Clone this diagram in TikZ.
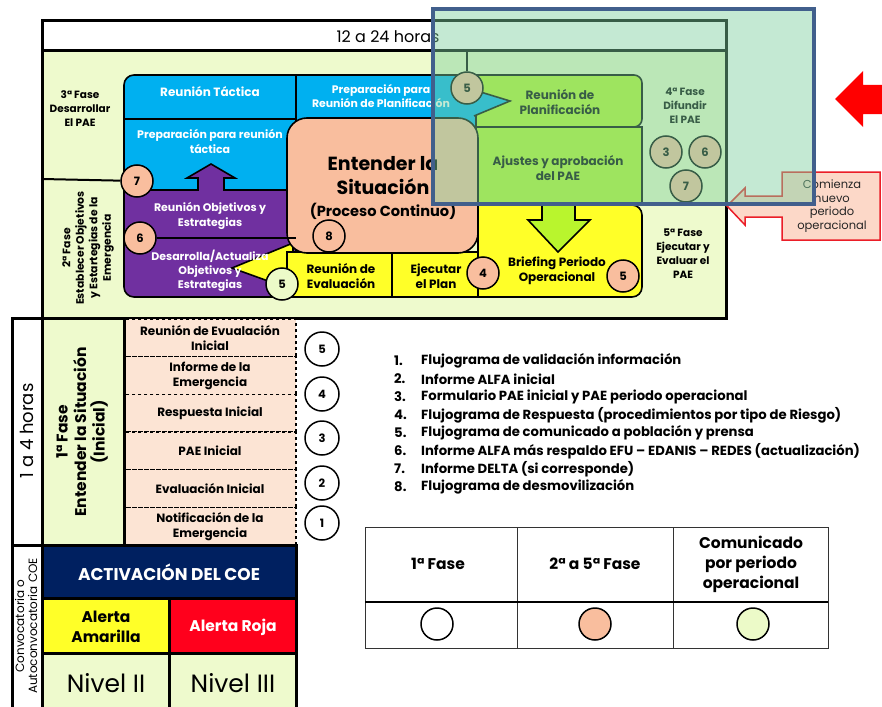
\documentclass[tikz,border=0pt]{standalone}
\usepackage{fontspec}
\setmainfont{Poppins}
\newcommand{\myfs}[2]{\fontsize{#1}{#2}\selectfont}
\definecolor{panel}{RGB}{238,250,205}
\definecolor{cyanb}{RGB}{0,176,240}
\definecolor{purp}{RGB}{112,48,160}
\definecolor{salm}{RGB}{249,190,158}
\definecolor{yel}{RGB}{255,255,40}
\definecolor{gbox}{RGB}{185,245,45}
\definecolor{peach}{RGB}{252,228,212}
\definecolor{navy}{RGB}{0,32,96}
\definecolor{rojo}{RGB}{255,0,28}
\definecolor{lgreen}{RGB}{236,250,200}
\definecolor{ovl}{RGB}{126,208,158}
\definecolor{ovlb}{RGB}{65,95,140}
\definecolor{calfill}{RGB}{252,216,200}
\definecolor{calline}{RGB}{235,30,40}
\pgfdeclarelayer{fg}
\pgfdeclarelayer{ovlayer}
\pgfsetlayers{main,fg,ovlayer}
\begin{document}
\begin{tikzpicture}[x=1pt,y=-1pt,
  box/.style={draw=black,line width=1.6pt},
  thickbox/.style={draw=black,line width=3pt},
  circ/.style={circle,draw=black,line width=1.5pt,minimum size=32pt,inner sep=0pt,font=\myfs{11.5}{12}\bfseries},
  wtxt/.style={text=white,font=\myfs{11}{15}\bfseries,align=center,inner sep=0pt},
  btxt/.style={text=black,font=\myfs{10.5}{14}\bfseries,align=center,inner sep=0pt},
  ptxt/.style={text=black,font=\myfs{12}{15}\bfseries,align=center,inner sep=0pt},
  ltxt/.style={font=\myfs{13.2}{14}\bfseries,anchor=west,inner sep=0pt},
  gtxt/.style={font=\myfs{15.5}{20}\bfseries,align=center,inner sep=0pt},
]
\useasboundingbox (0,0) rectangle (882,706);
\fill[white] (0,0) rectangle (882,706);

% ---------- upper panel ----------
\filldraw[fill=panel,thickbox] (42,21) rectangle (726,318);
\filldraw[fill=white,thickbox] (42,21) rectangle (726,51);
\node[font=\myfs{16}{18}] (hdr) at (388,37) {12 a 24 horas};

% blue boxes
\filldraw[fill=cyanb,box] (296,75) rectangle (476,140);
\filldraw[fill=cyanb,box] (124,119) -- (124,85) arc[start angle=180,end angle=270,radius=10] -- (296,75) -- (296,119) -- cycle;
\filldraw[fill=cyanb,box] (124,119) rectangle (296,192);
% purple
\filldraw[fill=purp,box] (124,190) -- (296,190) -- (296,297) -- (134,297) arc[start angle=90,end angle=180,radius=10] -- cycle;
\fill[purp] (198,193) -- (198,178) -- (187,178) -- (211,164) -- (235,178) -- (224,178) -- (224,193) -- cycle;
\draw[box] (198,190.8) -- (198,178) -- (187,178) -- (211,164) -- (235,178) -- (224,178) -- (224,190.8);
% yellow
\filldraw[fill=yel,box] (232,268) -- (293,243) -- (293,290) -- cycle;
\filldraw[fill=yel,box] (287,252) rectangle (392,297);
\filldraw[fill=yel,box] (392,252) rectangle (478,297);
\filldraw[fill=yel,box] (478,205) -- (632,205) arc[start angle=270,end angle=360,radius=10] -- (642,287) arc[start angle=0,end angle=90,radius=10] -- (478,297) -- cycle;
\fill[gbox] (542,203) -- (542,220) -- (528,220) -- (558,252) -- (590,220) -- (575,220) -- (575,203) -- cycle;
\draw[box] (542,206) -- (542,220) -- (528,220) -- (558,252) -- (590,220) -- (575,220) -- (575,206);
% green
\filldraw[fill=gbox,box] (476,75) -- (634,75) arc[start angle=270,end angle=360,radius=8] -- (642,119) arc[start angle=0,end angle=90,radius=8] -- (476,127) -- cycle;
\filldraw[fill=gbox,box] (476,127) rectangle (642,205);
% salmon
\filldraw[fill=salm,box,rounded corners=20pt] (287,118) rectangle (478,253);
% pointer
\filldraw[fill=cyanb,box] (474,90) -- (510,101) -- (474,116);

% texts of upper panel
\node[btxt] (f3) at (80,109) {3ª Fase\\Desarrollar\\El PAE};
\node[btxt,rotate=90,font=\myfs{10.8}{13.5}\bfseries] (f2) at (88,248) {2ª Fase\\Establecer Objetivos\\y Estartegias de la\\Emergencia};
\node[btxt] (f4) at (685,106) {4ª Fase\\Difundir\\El PAE};
\node[btxt] (f5) at (683,254) {5ª Fase\\Ejecutar y\\Evaluar el\\PAE};
\node[wtxt,font=\myfs{12}{15}\bfseries] (tRT) at (210,92) {Reunión Táctica};
\node[wtxt] (tPRT) at (210,141) {Preparación para reunión\\táctica};
\node[wtxt,font=\myfs{10.9}{14}\bfseries] (tPRP) at (381,96) {Preparación para\\Reunión de Planificación};
\node[wtxt] (tROE) at (210,216) {Reunión Objetivos y\\Estrategias};
\node[wtxt,font=\myfs{11}{14}\bfseries] (tDAO) at (210,271) {Desarrolla/Actualiza\\Objetivos y\\Estrategias};
\node[btxt,font=\myfs{19}{24}\bfseries] (tENT) at (383,176) {Entender la\\Situación};
\node[btxt,font=\myfs{14.6}{16}\bfseries] (tPC) at (383,211) {(Proceso Continuo)};
\node[ptxt] (tRE) at (341,276) {Reunión de\\Evaluación};
\node[ptxt] (tEP) at (436,276) {Ejecutar\\el Plan};
\node[ptxt] (tRP) at (560,102) {Reunión de\\Planificación};
\node[ptxt] (tAJ) at (558,168) {Ajustes y aprobación\\del PAE};
\node[ptxt] (tBR) at (557,271) {Briefing Periodo\\Operacional};

% circles
\begin{pgfonlayer}{fg}
\node[circ,fill=salm] (c5t) at (467,88) {5};
\node[circ,fill=salm] (c7) at (137,181) {7};
\node[circ,fill=salm] (c6) at (140,238) {6};
\node[circ,fill=salm] (c8) at (329,236) {8};
\node[circ,fill=lgreen] (c5c) at (282,284) {5};
\node[circ,fill=salm] (c4) at (483,273) {4};
\node[circ,fill=salm] (c5b) at (623,276) {5};
\node[circ,fill=salm] (c3r) at (666,152) {3};
\node[circ,fill=salm] (c6r) at (705,152) {6};
\node[circ,fill=salm] (c7r) at (686,186) {7};
\end{pgfonlayer}
\coordinate (hb) at (467,51);
\coordinate (lw) at (42,179);
\coordinate (pd) at (296,238);
\coordinate (rd1) at (642,205);
\coordinate (rd2) at (726,205);
\draw[box] (hb) -- (c5t);
\draw[line width=2pt] (lw) -- (c7);
\draw[box] (c6) -- (pd);
\draw[line width=2pt] (rd1) -- (rd2);

% ---------- lower left ----------
\foreach \i/\t in {0/{Reunión de Evualación\\Inicial},1/{Informe de la\\Emergencia},2/{Respuesta Inicial},3/{PAE Inicial},4/{Evaluación Inicial},5/{Notificación de la\\Emergencia}}{
  \filldraw[fill=peach,draw=black,dashed,line width=1.3pt] (124,319+37.7*\i) rectangle (296,319+37.7*\i+37.7);
  \node[ptxt,font=\myfs{12}{15}\bfseries] (pb\i) at (210,337.9+37.7*\i) {\t};
}
\filldraw[fill=white,thickbox] (12,318) rectangle (42,545);
\filldraw[fill=panel,thickbox] (42,318) rectangle (124,545);
\node[rotate=90,font=\myfs{18}{20}] (h14) at (27,431) {1 a 4 horas};
\node[rotate=90,align=center,font=\myfs{15.5}{18.5}\bfseries] (f1) at (82,432) {1ª Fase\\Entender la Situación\\(Inicial)};

\begin{pgfonlayer}{fg}
\node[circ,fill=white,minimum size=34pt] (l5) at (322,349) {5};
\node[circ,fill=white,minimum size=34pt] (l4) at (322,394) {4};
\node[circ,fill=white,minimum size=34pt] (l3) at (322,438) {3};
\node[circ,fill=white,minimum size=34pt] (l2) at (322,483) {2};
\node[circ,fill=white,minimum size=34pt] (l1) at (322,523) {1};
\end{pgfonlayer}

\filldraw[fill=white,thickbox] (12,545) rectangle (42,712);
\node[rotate=90,align=center,font=\myfs{12}{13}] (conv) at (26,626) {Convocatoria o\\Autoconvocatoria COE};
\filldraw[fill=navy,thickbox] (42,545) rectangle (296,598);
\node[text=white,font=\myfs{17}{19}\bfseries] (act) at (169,572) {ACTIVACIÓN DEL COE};
\filldraw[fill=yel,thickbox] (42,598) rectangle (169,653);
\filldraw[fill=rojo,thickbox] (169,598) rectangle (296,653);
\node[align=center,font=\myfs{15.5}{20}\bfseries] (aam) at (106,627) {Alerta\\Amarilla};
\node[text=white,font=\myfs{15.5}{20}\bfseries] (aro) at (233,627) {Alerta Roja};
\filldraw[fill=panel,thickbox] (42,653) rectangle (169,712);
\filldraw[fill=panel,thickbox] (169,653) rectangle (296,712);
\node[font=\myfs{25}{27}] (n2) at (106,683) {Nivel II};
\node[font=\myfs{25}{27}] (n3) at (233,683) {Nivel III};

% ---------- numbered list ----------
\foreach \i/\t in {1/{Flujograma de validación información},2/{Informe ALFA inicial},3/{Formulario PAE inicial y PAE periodo operacional},4/{Flujograma de Respuesta (procedimientos por tipo de Riesgo)},5/{Flujograma de comunicado a población y prensa},6/{Informe ALFA más respaldo EFU – EDANIS – REDES (actualización)},7/{Informe DELTA (si corresponde)},8/{Flujograma de desmovilización}}{
  \node[ltxt] (ln\i) at (394,361+18*\i-18) {\i.};
  \node[ltxt] (lt\i) at (421,361+18*\i-18) {\t};
}

% ---------- legend table ----------
\draw[line width=1pt,draw=black!80] (365,527) rectangle (828,648);
\draw[line width=1pt,draw=black!80] (517,527) -- (517,648);
\draw[line width=1pt,draw=black!80] (673,527) -- (673,648);
\draw[line width=2.5pt] (365,602) -- (828,602);
\node[gtxt] (g1t) at (438,564) {1ª Fase};
\node[gtxt] (g2t) at (595,564) {2ª a 5ª Fase};
\node[gtxt] (g3t) at (751,564) {Comunicado\\por periodo\\operacional};
\node[circ,fill=white] (g1) at (437,624) {};
\node[circ,fill=salm] (g2) at (595,624) {};
\node[circ,fill=lgreen] (g3) at (753,624) {};

% ---------- right arrows ----------
\fill[red] (835,99) -- (863,71) -- (863,85) -- (884,85) -- (884,114) -- (863,114) -- (863,127) -- cycle;
\filldraw[fill=calfill,draw=calline,line width=1.5pt] (782,172) -- (880,172) -- (880,240) -- (782,240) -- (782,217) -- (745,217) -- (745,225) -- (727,206) -- (745,188) -- (745,196) -- (782,196) -- cycle;
\node[align=center,font=\myfs{11.5}{13.5},text=black!85] (cal) at (832,206) {Comienza\\nuevo\\periodo\\operacional};

% ---------- overlay ----------
\begin{pgfonlayer}{ovlayer}
\filldraw[fill=ovl,fill opacity=0.45,draw=ovlb,line width=4pt] (433,9) rectangle (814,204);
\end{pgfonlayer}
\end{tikzpicture}
\end{document}
